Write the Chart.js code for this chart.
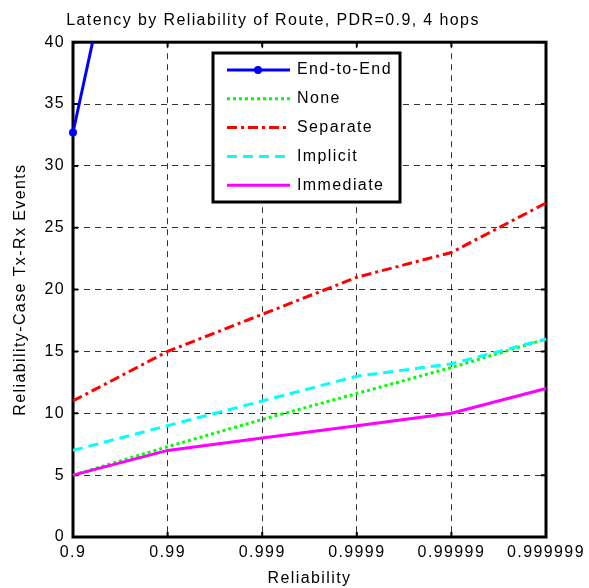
<!DOCTYPE html>
<html>
<head>
<meta charset="utf-8">
<script src="https://cdn.jsdelivr.net/npm/chart.js@4"></script>
<style>
  html, body { margin: 0; padding: 0; background: #fff; }
  canvas { display: block; }
</style>
</head>
<body>
<canvas id="chart" width="589" height="588"></canvas>
<script>
// ---- data -------------------------------------------------------------
const reliability = ['0.9', '0.99', '0.999', '0.9999', '0.99999', '0.999999'];
const endToEnd  = [32.7, 68, null, null, null, null];
const none      = [5, 7.3, 9.5, 11.6, 13.7, 16];
const separate  = [11, 15, 18, 21, 23, 27];
const implicit  = [7, 9, 11, 13, 14, 16];
const immediate = [5, 7, 8, 9, 10, 12];

const FONT = 'Arial, "Liberation Sans", Helvetica, sans-serif';
Chart.defaults.font.family = FONT;
Chart.defaults.color = '#000';

// frame + inward ticks (MATLAB style box)
const frame = {
  id: 'frame',
  beforeDatasetsDraw(chart) {
    const { ctx, chartArea: a, scales: { x, y } } = chart;
    ctx.save();
    ctx.strokeStyle = '#000';
    ctx.lineWidth = 2;
    x.ticks.forEach((_, i) => {
      const px = x.getPixelForTick(i);
      ctx.beginPath();
      ctx.moveTo(px, a.bottom); ctx.lineTo(px, a.bottom - 5);
      ctx.moveTo(px, a.top);    ctx.lineTo(px, a.top + 5);
      ctx.stroke();
    });
    y.ticks.forEach((_, i) => {
      const py = y.getPixelForTick(i);
      ctx.beginPath();
      ctx.moveTo(a.left, py);  ctx.lineTo(a.left + 5, py);
      ctx.moveTo(a.right, py); ctx.lineTo(a.right - 5, py);
      ctx.stroke();
    });
    ctx.lineWidth = 3;
    ctx.strokeRect(a.left, a.top, a.right - a.left, a.bottom - a.top);
    ctx.restore();
  }
};

// legend box inside the plot
const boxLegend = {
  id: 'boxLegend',
  afterDraw(chart) {
    const { ctx } = chart;
    const bx = 213, by = 53, bw = 187, bh = 149;
    ctx.save();
    ctx.fillStyle = '#fff';
    ctx.fillRect(bx, by, bw, bh);
    ctx.strokeStyle = '#000';
    ctx.lineWidth = 3;
    ctx.strokeRect(bx, by, bw, bh);
    chart.data.datasets.forEach((ds, i) => {
      const cy = by + 17 + i * 28.8;
      ctx.strokeStyle = ds.borderColor;
      ctx.lineWidth = ds.borderWidth;
      ctx.setLineDash(ds.borderDash || []);
      ctx.beginPath();
      ctx.moveTo(227, cy); ctx.lineTo(290, cy);
      ctx.stroke();
      ctx.setLineDash([]);
      if (ds.pointRadius) {
        ctx.fillStyle = ds.borderColor;
        ctx.beginPath();
        ctx.arc(258, cy, ds.pointRadius, 0, Math.PI * 2);
        ctx.fill();
      }
      ctx.fillStyle = '#000';
      ctx.font = '16px ' + FONT;
      ctx.textBaseline = 'middle';
      ctx.textAlign = 'left';
      ctx.fillText(ds.label, 297, cy);
    });
    ctx.restore();
  }
};

const spacing = {
  id: 'spacing',
  beforeDraw(chart) { chart.ctx.letterSpacing = '1.4px'; }
};

new Chart(document.getElementById('chart'), {
  type: 'line',
  data: {
    labels: reliability,
    datasets: [
      { label: 'End-to-End', data: endToEnd, borderColor: '#0000ff', backgroundColor: '#0000ff',
        borderWidth: 3, pointRadius: 4, pointBackgroundColor: '#0000ff', pointBorderWidth: 0,
        clip: { left: 8, top: 0, right: 0, bottom: 0 }, order: 5 },
      { label: 'None', data: none, borderColor: '#00ff00', borderWidth: 3,
        borderDash: [3, 3], pointRadius: 0, order: 4 },
      { label: 'Separate', data: separate, borderColor: '#ff0000', borderWidth: 3,
        borderDash: [10, 4, 3, 4], pointRadius: 0, order: 3 },
      { label: 'Implicit', data: implicit, borderColor: '#00ffff', borderWidth: 3,
        borderDash: [10, 6], pointRadius: 0, order: 2 },
      { label: 'Immediate', data: immediate, borderColor: '#ff00ff', borderWidth: 3,
        pointRadius: 0, order: 1 }
    ]
  },
  options: {
    responsive: false,
    animation: false,
    layout: { padding: { left: 0, right: 43, top: 0, bottom: 0 } },
    plugins: {
      legend: { display: false },
      tooltip: { enabled: false },
      title: {
        display: true,
        text: 'Latency by Reliability of Route, PDR=0.9, 4 hops',
        font: { size: 16, weight: 'normal' },
        color: '#000',
        padding: { top: 11, bottom: 12 }
      }
    },
    scales: {
      x: {
        grid: { color: 'rgba(0,0,0,0.8)', lineWidth: 1, drawTicks: false },
        border: { display: false, dash: [6, 5] },
        ticks: { font: { size: 16 }, padding: 6, maxRotation: 0, autoSkip: false },
        title: { display: true, text: 'Reliability', font: { size: 16 }, padding: 0 },
        afterFit(s) { s.height = 51; }
      },
      y: {
        min: 0, max: 40,
        grid: { color: 'rgba(0,0,0,0.8)', lineWidth: 1, drawTicks: false },
        border: { display: false, dash: [6, 5] },
        ticks: { stepSize: 5, font: { size: 16 }, padding: 8 },
        title: { display: true, text: 'Reliability-Case Tx-Rx Events', font: { size: 16 }, padding: { top: 11, bottom: 0 } },
        afterFit(s) { s.width = 73; }
      }
    }
  },
  plugins: [spacing, frame, boxLegend]
});
</script>
</body>
</html>
